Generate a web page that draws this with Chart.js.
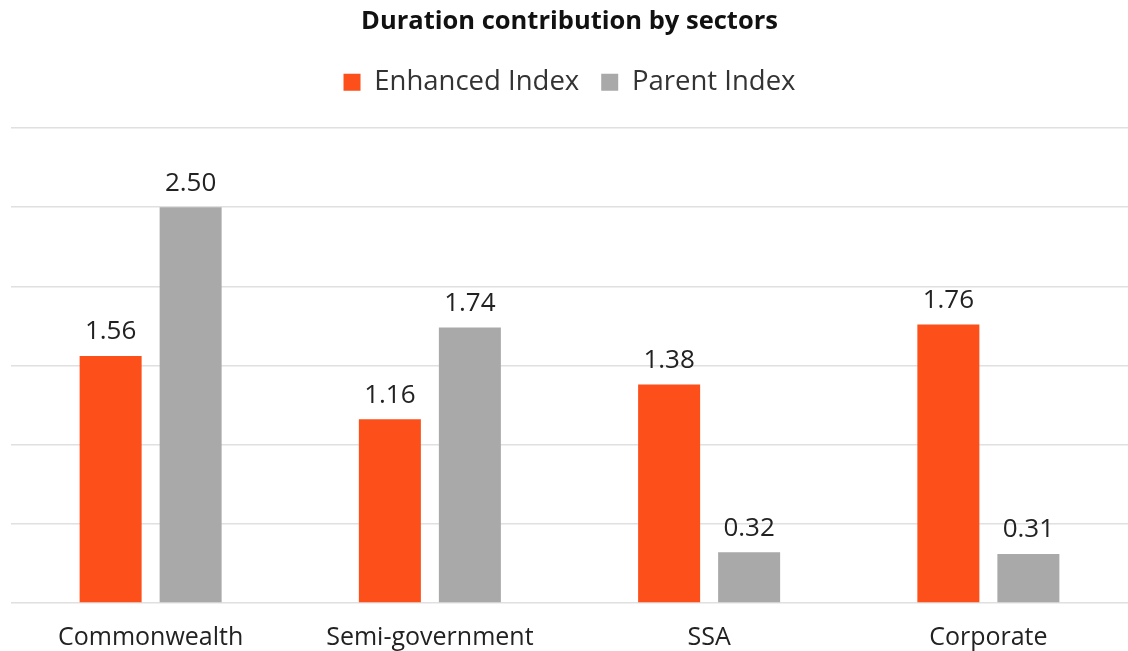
<!DOCTYPE html>
<html>
<head>
<meta charset="utf-8">
<script src="https://cdn.jsdelivr.net/npm/chart.js@4"></script>
<style>
  html, body { margin: 0; padding: 0; background: #fff; }
  #wrap { width: 1128px; height: 651px; position: relative; }
</style>
</head>
<body>
<div id="wrap"><canvas id="chart"></canvas></div>
<script>
// data
var sectors = ['Commonwealth', 'Semi-government', 'SSA', 'Corporate'];
var enhanced = [1.56, 1.16, 1.38, 1.76];
var parent = [2.50, 1.74, 0.32, 0.31];

var FONT = '"Open Sans", Lato, sans-serif';

// draws the value above each bar
var barLabels = {
    id: 'barLabels',
    afterDatasetsDraw: function(chart) {
        var ctx = chart.ctx;
        ctx.save();
        ctx.font = '26px ' + FONT;
        ctx.fillStyle = '#222';
        ctx.textAlign = 'center';
        ctx.textBaseline = 'bottom';
        chart.data.datasets.forEach(function(ds, i) {
            chart.getDatasetMeta(i).data.forEach(function(bar, j) {
                ctx.fillText(ds.data[j].toFixed(2), bar.x, bar.y - 11);
            });
        });
        ctx.restore();
    }
};

// extra space under the legend
var legendGap = {
    id: 'legendGap',
    beforeInit: function(chart) {
        var fit = chart.legend.fit;
        chart.legend.fit = function() {
            fit.bind(chart.legend)();
            this.height += 22;
        };
    }
};

new Chart(document.getElementById('chart'), {
    type: 'bar',
    data: {
        labels: sectors,
        datasets: [{
            label: 'Enhanced Index',
            data: enhanced,
            backgroundColor: '#FC4F19'
        }, {
            label: 'Parent Index',
            data: parent,
            backgroundColor: '#A9A9A9'
        }]
    },
    options: {
        responsive: true,
        maintainAspectRatio: false,
        animation: false,
        categoryPercentage: 0.573,
        barPercentage: 0.775,
        layout: { padding: { left: 11, right: 0, top: 0, bottom: 0 } },
        plugins: {
            title: {
                display: true,
                text: 'Duration contribution by sectors',
                color: '#111',
                font: { family: FONT, size: 25.5, weight: 'bold' },
                padding: { top: 6, bottom: 10 }
            },
            legend: {
                position: 'top',
                labels: {
                    color: '#333',
                    font: { family: FONT, size: 27.5 },
                    boxWidth: 17,
                    boxHeight: 17,
                    padding: 22
                }
            },
            tooltip: { enabled: false }
        },
        scales: {
            x: {
                grid: { display: false },
                border: { display: false },
                ticks: { color: '#222', font: { family: FONT, size: 25 }, padding: 12 },
                afterFit: function(scale) { scale.height = 48; }
            },
            y: {
                min: 0,
                max: 3,
                ticks: { display: false, stepSize: 0.5 },
                grid: { color: '#e0e0e0', lineWidth: 1.5, drawTicks: false },
                border: { display: false }
            }
        }
    },
    plugins: [barLabels, legendGap]
});
</script>
</body>
</html>
